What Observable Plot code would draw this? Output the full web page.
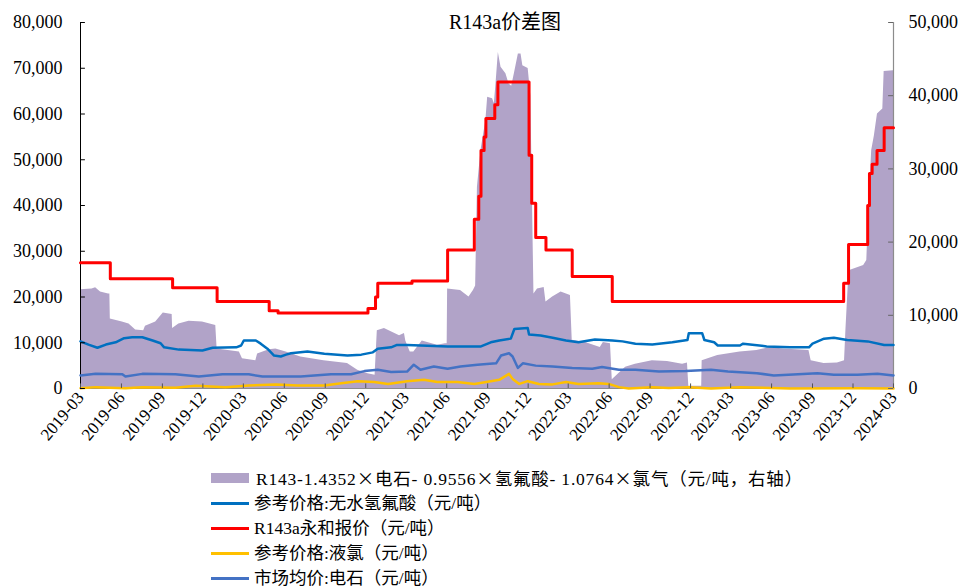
<!DOCTYPE html>
<html><head><meta charset="utf-8">
<script src="https://cdn.jsdelivr.net/npm/d3@7"></script>
<script src="https://cdn.jsdelivr.net/npm/@observablehq/plot@0.6"></script>
<style>
html,body{margin:0;padding:0;background:#fff;overflow:hidden;}
#wrap{position:relative;width:960px;height:587px;font-family:"Liberation Serif","Noto Sans CJK SC",serif;color:#000;}
#title{position:absolute;left:405px;width:200px;top:8px;text-align:center;font-size:20px;line-height:28px;}
#chart{position:absolute;left:0;top:0;}
.row{position:absolute;left:211px;height:24px;line-height:24px;font-size:17.5px;white-space:nowrap;}
.sw{position:absolute;left:0;width:38px;}
.row span.t{position:absolute;left:43px;top:0;}
.row.first span.t{letter-spacing:0.8px;left:45px;}
.cjk{font-family:"Noto Sans CJK SC",sans-serif;}
</style></head>
<body>
<div id="wrap">
  <div id="chart"></div>
  <div id="title">R143a价差图</div>
  <div id="legend"></div>
</div>
<script>
// ---- data ----
const xTickLabels = ["2019-03","2019-06","2019-09","2019-12","2020-03","2020-06","2020-09","2020-12","2021-03","2021-06","2021-09","2021-12","2022-03","2022-06","2022-09","2022-12","2023-03","2023-06","2023-09","2023-12","2024-03"];
const leftTicks = [0,10000,20000,30000,40000,50000,60000,70000,80000];
const rightTicks = [0,10000,20000,30000,40000,50000];

// spread series, right axis (元/吨)
const spread = [
["2019-03-01",13500],["2019-03-27",13600],["2019-04-04",13750],["2019-04-15",13200],["2019-05-03",12900],["2019-05-06",12900],
["2019-05-07",9500],["2019-06-03",9100],["2019-06-18",8800],["2019-07-03",8000],["2019-07-21",7900],["2019-07-25",8500],
["2019-08-17",9100],["2019-09-03",10300],["2019-09-23",10100],["2019-09-24",8200],["2019-10-08",8800],["2019-10-31",9200],
["2019-11-30",9100],["2019-12-30",8600],["2020-01-02",5400],["2020-02-21",5000],["2020-02-28",4050],["2020-03-29",3800],
["2020-04-02",4700],["2020-04-28",5300],["2020-05-13",5400],["2020-06-05",5000],["2020-07-08",4300],["2020-08-29",3800],
["2020-10-21",3400],["2020-11-13",2500],["2020-12-06",2000],["2020-12-22",1800],["2020-12-27",7900],["2021-01-12",8200],
["2021-02-15",7200],["2021-02-26",7500],["2021-03-01",6500],["2021-03-11",5000],["2021-03-19",5000],["2021-04-07",6500],
["2021-05-11",5900],["2021-05-29",6100],["2021-06-02",6100],["2021-06-03",13600],["2021-07-02",13400],["2021-07-21",12500],
["2021-07-31",13400],["2021-08-05",14000],["2021-08-09",27500],["2021-08-17",32500],["2021-08-28",36600],["2021-09-01",39800],
["2021-09-12",39600],["2021-09-16",38900],["2021-09-20",41800],["2021-09-25",45900],["2021-10-01",43900],["2021-10-12",43000],
["2021-10-19",41600],["2021-10-25",41300],["2021-10-31",43000],["2021-11-09",45700],["2021-11-15",45700],["2021-11-19",44100],
["2021-12-01",43700],["2021-12-07",40000],["2021-12-14",12900],["2021-12-22",13600],["2022-01-06",13800],["2022-01-10",11800],
["2022-01-25",12500],["2022-02-13",13200],["2022-03-06",12700],["2022-03-10",6600],["2022-04-09",6300],["2022-05-12",5600],
["2022-05-19",6300],["2022-06-04",6100],["2022-06-08",1200],["2022-07-08",2900],["2022-07-30",3300],["2022-09-06",3800],
["2022-10-10",3700],["2022-11-13",3300],["2022-11-24",3500],["2022-11-27",300],["2022-12-26",300],["2022-12-27",3800],
["2023-01-31",4500],["2023-03-22",5000],["2023-04-29",5200],["2023-05-29",5600],["2023-06-28",5400],["2023-08-24",5200],
["2023-08-29",3800],["2023-09-27",3400],["2023-10-27",3500],["2023-11-12",3800],["2023-11-15",7900],["2023-11-22",16100],
["2023-12-25",16800],["2024-01-01",17500],["2024-01-05",24000],["2024-01-12",32500],["2024-01-18",34500],["2024-01-25",37500],
["2024-02-06",38200],["2024-02-09",43300],["2024-03-01",43400]
];

// 参考价格:无水氢氟酸
const hf = [
["2019-03-01",10300],["2019-03-19",9600],["2019-04-08",8900],["2019-04-27",9600],["2019-05-19",10100],["2019-06-07",11000],
["2019-06-25",11200],["2019-07-18",11200],["2019-08-10",10500],["2019-08-28",9900],["2019-09-05",9000],["2019-10-08",8500],
["2019-11-30",8300],["2019-12-23",8900],["2020-02-14",9000],["2020-02-25",9400],["2020-03-02",10500],["2020-03-29",10500],
["2020-04-09",9800],["2020-04-24",8700],["2020-05-09",7200],["2020-05-24",7000],["2020-06-05",7400],["2020-06-16",7700],
["2020-07-23",8100],["2020-08-30",7600],["2020-10-21",7200],["2020-11-21",7400],["2020-12-17",7900],["2020-12-28",8700],
["2021-01-27",9000],["2021-02-08",9500],["2021-03-04",9500],["2021-04-03",9400],["2021-06-03",9200],["2021-08-17",9200],
["2021-09-08",10100],["2021-09-27",10500],["2021-10-23",10900],["2021-10-31",13000],["2021-11-30",13200],["2021-12-03",11800],
["2021-12-29",11600],["2022-01-25",11100],["2022-02-24",10500],["2022-03-24",10100],["2022-04-30",10700],["2022-06-08",10500],
["2022-07-01",10300],["2022-07-30",9800],["2022-09-06",9600],["2022-10-21",10100],["2022-11-24",10600],["2022-11-27",12100],
["2022-12-27",12100],["2023-01-01",10600],["2023-01-23",10100],["2023-01-31",9400],["2023-03-22",9400],["2023-03-29",9800],
["2023-05-21",9200],["2023-07-13",9000],["2023-08-24",9000],["2023-09-01",9800],["2023-09-27",10900],["2023-10-19",11100],
["2023-11-18",10600],["2024-01-03",10300],["2024-02-09",9500],["2024-03-01",9500]
];

// R143a永和报价 (step)
const r143a = [
["2019-03-01",27500],["2019-05-07",24000],["2019-09-24",22000],["2020-01-02",19000],["2020-04-28",17000],["2020-05-18",16500],
["2020-12-06",17500],["2020-12-23",20000],["2020-12-28",23000],["2021-03-15",23500],["2021-06-03",30300],["2021-08-02",37000],
["2021-08-12",42000],["2021-08-17",52000],["2021-08-24",55000],["2021-08-28",59000],["2021-09-17",62000],["2021-09-24",67000],
["2021-12-03",51000],["2021-12-09",40500],["2021-12-18",33000],["2022-01-10",30300],["2022-03-10",24500],["2022-06-08",19000],
["2023-11-10",23000],["2023-11-21",31500],["2024-01-03",40000],["2024-01-07",47000],["2024-01-13",49000],["2024-01-24",52000],
["2024-02-09",57000],["2024-03-01",57000]
];

// 参考价格:液氯
const chlorine = [
["2019-03-01",50],["2019-04-04",300],["2019-06-10",50],["2019-07-18",300],["2019-09-30",150],["2019-11-15",600],
["2020-01-21",300],["2020-03-13",650],["2020-05-13",900],["2020-07-01",650],["2020-08-30",650],["2020-10-07",1150],
["2020-11-13",1600],["2020-12-20",1400],["2021-01-20",1000],["2021-03-04",1600],["2021-04-11",1900],["2021-05-11",1400],
["2021-06-25",1400],["2021-08-02",1000],["2021-09-08",1600],["2021-09-27",1900],["2021-10-19",3200],["2021-10-27",2100],
["2021-11-11",1000],["2021-11-30",1600],["2021-12-25",1000],["2022-01-25",900],["2022-02-24",1400],["2022-03-24",1000],
["2022-05-08",1150],["2022-05-31",1000],["2022-06-23",300],["2022-07-15",0],["2022-09-06",300],["2022-10-13",100],
["2022-11-27",300],["2023-01-16",0],["2023-03-22",300],["2023-07-13",0],["2023-12-11",50],["2024-03-01",0]
];

// 市场均价:电石
const carbide = [
["2019-03-01",2850],["2019-04-04",3200],["2019-06-03",3100],["2019-06-10",2600],["2019-07-18",3200],["2019-09-30",3100],
["2019-11-22",2600],["2020-01-14",3100],["2020-03-13",3100],["2020-04-13",2600],["2020-07-08",2600],["2020-09-14",3100],
["2020-10-29",3100],["2020-11-28",3800],["2020-12-28",4100],["2021-01-27",3600],["2021-03-04",3700],["2021-03-19",5200],
["2021-04-03",4100],["2021-05-03",4800],["2021-06-03",4300],["2021-07-02",4800],["2021-08-09",5200],["2021-09-20",5500],
["2021-10-01",7200],["2021-10-19",7700],["2021-10-27",7000],["2021-11-08",4500],["2021-11-19",5500],["2021-12-18",5000],
["2022-01-25",4800],["2022-03-10",4500],["2022-04-24",4300],["2022-05-16",4700],["2022-06-23",4100],["2022-07-30",4100],
["2022-09-21",3700],["2022-11-20",3800],["2023-01-16",4100],["2023-02-23",3700],["2023-04-29",3350],["2023-06-06",2850],
["2023-09-12",3350],["2023-10-19",3000],["2023-12-11",3000],["2024-01-25",3200],["2024-03-01",2850]
];

const legendItems = [
  {label:"R143-1.4352×电石- 0.9556×氢氟酸- 1.0764×氯气（元/吨，右轴）", color:"#B1A3C8", type:"rect"},
  {label:"参考价格:无水氢氟酸（元/吨）", color:"#0070C0", type:"line"},
  {label:"R143a永和报价（元/吨）", color:"#FF0000", type:"line"},
  {label:"参考价格:液氯（元/吨）", color:"#FFC000", type:"line"},
  {label:"市场均价:电石（元/吨）", color:"#4472C4", type:"line"}
];

// ---- build ----
const parse = d3.utcParse("%Y-%m-%d");
const k = 80000 / 50000; // right axis -> left axis scale factor
const rows = (arr, f = 1) => arr.map(([d, v]) => ({date: parse(d), v: v * f}));
const xTicks = xTickLabels.map(s => d3.utcParse("%Y-%m")(s));
const x0 = xTicks[0], x1 = xTicks[xTicks.length - 1];
const fmt = d3.format(",");
const tickDays = 11;

const chart = Plot.plot({
  width: 960, height: 460,
  marginTop: 22, marginBottom: 72, marginLeft: 80, marginRight: 67,
  style: {fontFamily: '"Liberation Serif","Noto Sans CJK SC",serif', fontSize: "18px", color: "#000", background: "#fff"},
  x: {type: "utc", domain: [x0, x1], label: null},
  y: {domain: [0, 80000], label: null},
  marks: [
    Plot.areaY(rows(spread, k), {x: "date", y: "v", fill: "#B1A3C8"}),
    Plot.ruleY([0], {stroke: "#8c8c8c", strokeWidth: 1.2}),
    Plot.ruleX([x1], {stroke: "#8c8c8c", strokeWidth: 1.2}),
    Plot.ruleX([x0], {stroke: "#000", strokeWidth: 1}),
    Plot.lineY(rows(carbide), {x: "date", y: "v", stroke: "#4472C4", strokeWidth: 2.5}),
    Plot.lineY(rows(chlorine), {x: "date", y: "v", stroke: "#FFC000", strokeWidth: 2.5}),
    Plot.lineY(rows(hf), {x: "date", y: "v", stroke: "#0070C0", strokeWidth: 2.5}),
    Plot.lineY(rows(r143a), {x: "date", y: "v", stroke: "#FF0000", strokeWidth: 3, curve: "step-after"}),
    // inward tick marks
    Plot.ruleY(leftTicks, {y: d => d, x1: x0, x2: d3.utcDay.offset(x0, tickDays), stroke: "#000"}),
    Plot.ruleY(rightTicks.map(v => v * k), {y: d => d, x1: d3.utcDay.offset(x1, -tickDays), x2: x1, stroke: "#666"}),
    Plot.ruleX(xTicks, {x: d => d, y1: 0, y2: 1000, stroke: "#555"}),
    // axis labels
    Plot.axisY(leftTicks, {anchor: "left", tickSize: 0, tickPadding: 18, fontSize: 18, tickFormat: fmt, label: null}),
    Plot.axisY(rightTicks.map(v => v * k), {anchor: "right", tickSize: 0, tickPadding: 15, fontSize: 18, tickFormat: d => fmt(Math.round(d / k)), label: null}),
    Plot.axisX(xTicks, {anchor: "bottom", tickSize: 0, tickPadding: 6, fontSize: 17, tickRotate: -50, tickFormat: d3.utcFormat("%Y-%m"), label: null})
  ]
});
document.getElementById("chart").appendChild(chart);

const legend = document.getElementById("legend");
legendItems.forEach((it, i) => {
  const row = document.createElement("div");
  row.className = "row" + (i === 0 ? " first" : "");
  row.style.top = (466 + i * 25) + "px";
  const sw = document.createElement("div");
  sw.className = "sw";
  if (it.type === "rect") { sw.style.height = "10px"; sw.style.top = "7px"; }
  else { sw.style.height = "3px"; sw.style.top = "11px"; }
  sw.style.background = it.color;
  const t = document.createElement("span");
  t.className = "t";
  // render the multiplication sign with the CJK (full-width) font, as in the source
  it.label.split("×").forEach((part, j) => {
    if (j > 0) {
      const x = document.createElement("span");
      x.className = "cjk";
      x.textContent = "×";
      t.appendChild(x);
    }
    t.appendChild(document.createTextNode(part));
  });
  row.appendChild(sw); row.appendChild(t);
  legend.appendChild(row);
});
</script>
</body></html>
